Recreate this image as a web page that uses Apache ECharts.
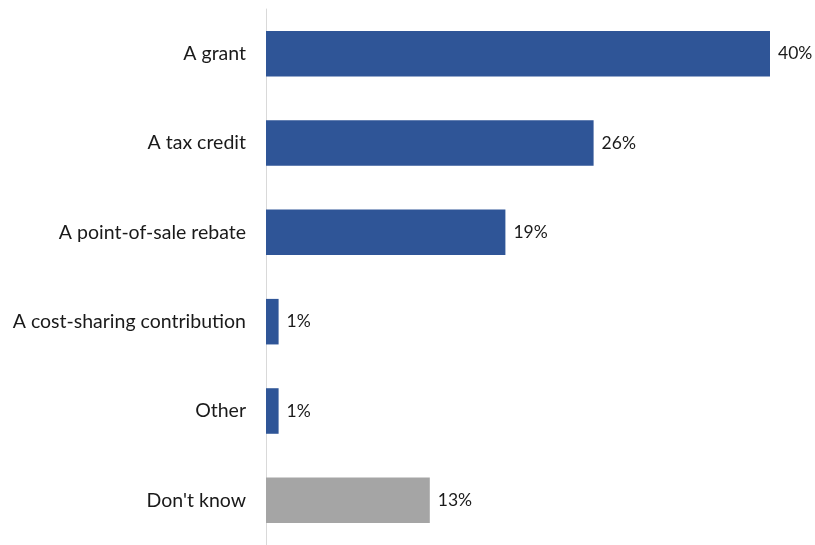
<!DOCTYPE html>
<html>
<head>
<meta charset="utf-8">
<script src="https://cdn.jsdelivr.net/npm/echarts@6/dist/echarts.min.js"></script>
<style>
  html, body { margin: 0; padding: 0; background: #fff; }
  #chart { width: 815px; height: 545px; }
</style>
</head>
<body>
<div id="chart"></div>
<script>
// Preferred incentive type (% of respondents)
const categories = [
  'A grant',
  'A tax credit',
  'A point-of-sale rebate',
  'A cost-sharing contribution',
  'Other',
  "Don't know"
];
const values = [40, 26, 19, 1, 1, 13];
const barColors = ['#2F5597', '#2F5597', '#2F5597', '#2F5597', '#2F5597', '#A5A5A5'];

const chart = echarts.init(document.getElementById('chart'));
chart.setOption({
  animation: false,
  textStyle: { fontFamily: 'Lato, "Open Sans", sans-serif' },
  grid: { left: 266, right: 45, top: 9, bottom: 0, containLabel: false },
  xAxis: {
    type: 'value',
    min: 0,
    max: 40,
    show: false
  },
  yAxis: {
    type: 'category',
    data: categories,
    inverse: true,
    axisLine: { show: true, lineStyle: { color: '#D9D9D9', width: 1 } },
    axisTick: { show: false },
    axisLabel: {
      color: '#1a1a1a',
      fontSize: 19.5,
      margin: 20,
      fontFamily: 'Lato, "Open Sans", sans-serif'
    }
  },
  series: [{
    type: 'bar',
    barCategoryGap: '49%',
    data: values.map((v, i) => ({ value: v, itemStyle: { color: barColors[i] } })),
    label: {
      show: true,
      position: 'right',
      distance: 8,
      color: '#1a1a1a',
      fontSize: 17.5,
      fontFamily: 'Lato, "Open Sans", sans-serif',
      formatter: p => p.value + '%'
    }
  }]
});
</script>
</body>
</html>
